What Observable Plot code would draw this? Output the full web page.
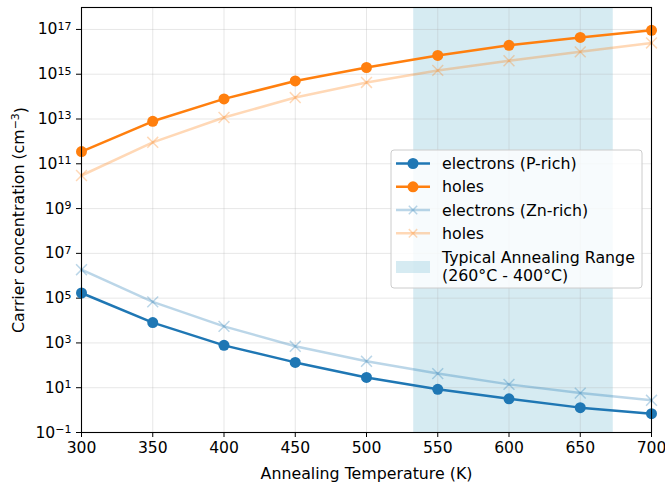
<!DOCTYPE html>
<html>
<head>
<meta charset="utf-8">
<script src="https://cdn.jsdelivr.net/npm/d3@7"></script>
<script src="https://cdn.jsdelivr.net/npm/@observablehq/plot@0.6"></script>
<style>
  html, body { margin: 0; padding: 0; background: #fff; }
  #chart { width: 665px; height: 487px; }
  svg { font-family: "DejaVu Sans", sans-serif; overflow: visible; }
  #chart svg [aria-label="x-axis label"] text,
  #chart svg [aria-label="y-axis label"] text { font-size: 15.8px; }
  #chart svg [aria-label="x-axis tick label"] text,
  #chart svg [aria-label="y-axis tick label"] text { font-size: 15.6px; }
  #chart svg tspan.sup { font-size: 11px; }
  #chart svg g.legend text { font-size: 15.8px; }
</style>
</head>
<body>
<div id="chart"></div>
<script>
const temps = [300, 350, 400, 450, 500, 550, 600, 650, 700];
const electronsP = [1.7e5, 8.1e3, 7.8e2, 135, 28.8, 8.5, 3.2, 1.29, 0.69];
const holesP = [3.5e11, 7.9e12, 7.9e13, 5.0e14, 2.0e15, 6.9e15, 1.95e16, 4.4e16, 9.1e16];
const electronsZn = [1.86e6, 6.8e4, 5.5e3, 708, 151, 42.7, 14.1, 5.75, 2.75];
const holesZn = [3.0e10, 9.1e11, 1.17e13, 9.1e13, 4.3e14, 1.48e15, 4.0e15, 1.0e16, 2.5e16];
const xTicks = [300, 350, 400, 450, 500, 550, 600, 650, 700];
const yExponents = [-1, 1, 3, 5, 7, 9, 11, 13, 15, 17];
const annealRange = [{x1: 533.15, x2: 673.15}];
const seriesNames = ["electrons (P-rich)", "holes", "electrons (Zn-rich)", "holes", "Typical Annealing Range", "(260°C - 400°C)"];

const blue = "#1f77b4", orange = "#ff7f0e";
const mk = (vals, key) => temps.map((t, i) => ({t, v: vals[i], key}));
const dEP = mk(electronsP, "eP"), dHP = mk(holesP, "hP"), dEZ = mk(electronsZn, "eZ"), dHZ = mk(holesZn, "hZ");
const yTickVals = yExponents.map(e => Math.pow(10, e));
const yTop = Math.pow(10, 17.98);

const expOf = d => Math.round(Math.log10(d));
const fmt = d => "10^" + expOf(d);

const chart = Plot.plot({
  width: 665, height: 487,
  marginLeft: 81, marginRight: 14, marginTop: 7, marginBottom: 55,
  style: {fontFamily: "DejaVu Sans, sans-serif", fontSize: "15.8px", color: "black", background: "white", overflow: "visible"},
  x: {domain: [300, 700]},
  y: {type: "log", domain: [0.1, yTop]},
  marks: [
    Plot.rectY(annealRange, {x1: "x1", x2: "x2", y1: 0.1, y2: yTop, fill: "#add8e6", fillOpacity: 0.5}),
    Plot.gridX(xTicks, {stroke: "#b0b0b0", strokeOpacity: 0.3, strokeWidth: 1}),
    Plot.gridY(yTickVals, {stroke: "#b0b0b0", strokeOpacity: 0.3, strokeWidth: 1}),
    Plot.axisX(xTicks, {fontSize: 15.6, tickSize: 5, tickPadding: 4, stroke: "black", fill: "black",
      label: "Annealing Temperature (K)", labelAnchor: "center", labelArrow: "none", labelOffset: 46}),
    Plot.axisY(yTickVals, {fontSize: 15.6, tickSize: 5, tickPadding: 5, tickFormat: fmt, stroke: "black", fill: "black",
      label: "Carrier concentration (cm⁻³)", labelAnchor: "center", labelArrow: "none", labelOffset: 69}),
    Plot.line(dEZ, {x: "t", y: "v", stroke: blue, strokeWidth: 2.5, strokeOpacity: 0.3}),
    Plot.dot(dEZ, {x: "t", y: "v", symbol: "times", r: 5, stroke: blue, strokeWidth: 1.5, strokeOpacity: 0.3}),
    Plot.line(dHZ, {x: "t", y: "v", stroke: orange, strokeWidth: 2.5, strokeOpacity: 0.3}),
    Plot.dot(dHZ, {x: "t", y: "v", symbol: "times", r: 5, stroke: orange, strokeWidth: 1.5, strokeOpacity: 0.3}),
    Plot.line(dEP, {x: "t", y: "v", stroke: blue, strokeWidth: 2.5}),
    Plot.dot(dEP, {x: "t", y: "v", r: 5.5, fill: blue, stroke: "none"}),
    Plot.line(dHP, {x: "t", y: "v", stroke: orange, strokeWidth: 2.5}),
    Plot.dot(dHP, {x: "t", y: "v", r: 5.5, fill: orange, stroke: "none"}),
    Plot.frame({stroke: "black", strokeWidth: 1.1})
  ]
});
document.getElementById("chart").appendChild(chart);

const svg = d3.select(chart);
// Superscript exponents on y tick labels
svg.selectAll('[aria-label="y-axis tick label"] text').each(function() {
  const t = d3.select(this);
  const s = t.text();
  const parts = s.split("^");
  if (parts.length !== 2) return;
  t.text(parts[0]);
  t.append("tspan").attr("class", "sup").attr("dy", "-0.42em").text(parts[1].replace("-", "\u2212"));
});
// Y label superscript
svg.selectAll('[aria-label="y-axis label"] text').each(function() {
  const t = d3.select(this);
  t.text("Carrier concentration (cm");
  t.append("tspan").attr("class", "sup").attr("dy", "-0.45em").text("\u22123");
  t.append("tspan").attr("dy", "0.45em").text(")");
});

// Legend
const g = svg.append("g").attr("class", "legend").attr("font-family", "DejaVu Sans, sans-serif").attr("text-anchor", "start").attr("fill", "black");
g.append("rect").attr("x", 391).attr("y", 150).attr("width", 251).attr("height", 138).attr("rx", 3)
  .attr("fill", "white").attr("fill-opacity", 0.8).attr("stroke", "#cccccc").attr("stroke-width", 1);
const entries = [
  {label: seriesNames[0], color: blue, op: 1, sym: "o", y: 163.5},
  {label: seriesNames[1], color: orange, op: 1, sym: "o", y: 186.8},
  {label: seriesNames[2], color: blue, op: 0.3, sym: "x", y: 210},
  {label: seriesNames[3], color: orange, op: 0.3, sym: "x", y: 233.3}
];
entries.forEach(e => {
  g.append("line").attr("x1", 396).attr("x2", 430).attr("y1", e.y).attr("y2", e.y)
    .attr("stroke", e.color).attr("stroke-width", 2.5).attr("stroke-opacity", e.op);
  if (e.sym === "o") {
    g.append("circle").attr("cx", 413).attr("cy", e.y).attr("r", 5.5).attr("fill", e.color);
  } else {
    const s = 4.2;
    g.append("path").attr("d", `M${413-s},${e.y-s}L${413+s},${e.y+s}M${413-s},${e.y+s}L${413+s},${e.y-s}`)
      .attr("stroke", e.color).attr("stroke-width", 1.5).attr("stroke-opacity", e.op);
  }
  g.append("text").attr("x", 442).attr("y", e.y).attr("dy", "0.35em").text(e.label);
});
g.append("rect").attr("x", 396).attr("y", 261).attr("width", 34).attr("height", 12)
  .attr("fill", "#add8e6").attr("fill-opacity", 0.5);
g.append("text").attr("x", 442).attr("y", 257).attr("dy", "0.35em").text(seriesNames[4]);
g.append("text").attr("x", 442).attr("y", 275).attr("dy", "0.35em").text(seriesNames[5]);
</script>
</body>
</html>
